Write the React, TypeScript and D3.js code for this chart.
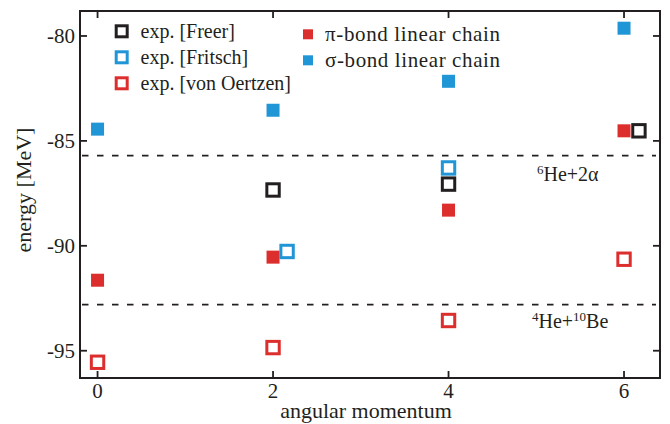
import React from "react";
import * as d3 from "d3";

// ---- data ----
const sigmaJ = [0, 2, 4, 6];
const sigmaE = [-84.44, -83.54, -82.16, -79.63];
const piJ = [0, 2, 4, 6];
const piE = [-91.64, -90.54, -88.3, -84.52];
const freerJ = [2, 4, 6.17];
const freerE = [-87.34, -87.06, -84.52];
const fritschJ = [2.16, 4];
const fritschE = [-90.27, -86.29];
const oertzenJ = [0, 2, 4, 6];
const oertzenE = [-95.55, -94.85, -93.56, -90.64];
const thresholdE = [-85.7, -92.8];
const xTicks = [0, 2, 4, 6];
const yTicks = [-80, -85, -90, -95];

const RED = "#dd2e2e";
const BLUE = "#2196d6";
const BLACK = "#231f20";
const FONT = '"Liberation Serif", "DejaVu Serif", serif';

const W = 670, H = 424;
const L = 80, R = 660, T = 11, B = 378;

export default function App() {
  const x = d3.scaleLinear().domain([-0.2, 6.41]).range([L, R]);
  const y = d3.scaleLinear().domain([-96.3, -78.81]).range([B, T]);
  const tick = 7;
  const ts = { fontFamily: FONT };

  const filled = (js: number[], es: number[], color: string, key: string) =>
    js.map((j, i) => (
      <rect key={key + i} x={x(j) - 6.5} y={y(es[i]) - 6.5} width={13} height={13} fill={color} />
    ));
  const open = (js: number[], es: number[], color: string, key: string) =>
    js.map((j, i) => (
      <rect key={key + i} x={x(j) - 6.2} y={y(es[i]) - 6.2} width={12.4} height={12.4}
        fill="white" stroke={color} strokeWidth={3} />
    ));

  return (
    <svg width={W} height={H} style={{ position: "absolute", left: 0, top: 0, background: "white", fontFamily: FONT }}
      fill={BLACK}>
      <rect x={0} y={0} width={W} height={H} fill="white" />
      {/* threshold dashed lines */}
      {thresholdE.map((e, i) => (
        <line key={"th" + i} x1={L + 2} x2={R - 4} y1={y(e)} y2={y(e)} stroke={BLACK}
          strokeWidth={1.7} strokeDasharray="6.5,8.5" />
      ))}
      <text x={537} y={181} fontSize={20} fill={BLACK} style={ts}>
        <tspan fontSize={13} dy={-7}>6</tspan>
        <tspan dy={7}>He+2α</tspan>
      </text>
      <text x={532} y={328} fontSize={20} fill={BLACK} style={ts}>
        <tspan fontSize={13} dy={-7}>4</tspan>
        <tspan dy={7}>He+</tspan>
        <tspan fontSize={13} dy={-7}>10</tspan>
        <tspan dy={7}>Be</tspan>
      </text>

      {/* frame */}
      <rect x={L} y={T} width={R - L} height={B - T} fill="none" stroke={BLACK} strokeWidth={2} />
      {xTicks.map((t) => (
        <g key={"xt" + t}>
          <line x1={x(t)} x2={x(t)} y1={B} y2={B - tick} stroke={BLACK} strokeWidth={1.8} />
          <line x1={x(t)} x2={x(t)} y1={T} y2={T + tick} stroke={BLACK} strokeWidth={1.8} />
          <text x={x(t)} y={398} fontSize={21} textAnchor="middle" style={ts}>{t}</text>
        </g>
      ))}
      {yTicks.map((t) => (
        <g key={"yt" + t}>
          <line x1={L} x2={L + tick} y1={y(t)} y2={y(t)} stroke={BLACK} strokeWidth={1.8} />
          <line x1={R} x2={R - tick} y1={y(t)} y2={y(t)} stroke={BLACK} strokeWidth={1.8} />
          <text x={75} y={y(t) + 7} fontSize={21} textAnchor="end" style={ts}>{t}</text>
        </g>
      ))}
      <text x={366} y={418} fontSize={22} textAnchor="middle" style={ts}>angular momentum</text>
      <text transform={`translate(31,190) rotate(-90)`} fontSize={22} textAnchor="middle" style={ts}>energy [MeV]</text>

      {/* data */}
      {filled(sigmaJ, sigmaE, BLUE, "s")}
      {filled(piJ, piE, RED, "p")}
      {open(oertzenJ, oertzenE, RED, "o")}
      {open(fritschJ, fritschE, BLUE, "f")}
      {open(freerJ, freerE, BLACK, "r")}

      {/* legend */}
      {[
        { label: "exp. [Freer]", c: BLACK, cy: 31.3 },
        { label: "exp. [Fritsch]", c: BLUE, cy: 57.3 },
        { label: "exp. [von Oertzen]", c: RED, cy: 83.3 },
      ].map((d) => (
        <g key={d.label}>
          <rect x={121.7 - 5.5} y={d.cy - 5.5} width={11} height={11} fill="white" stroke={d.c} strokeWidth={3} />
          <text x={140.5} y={d.cy + 6.5} fontSize={20} style={ts}>{d.label}</text>
        </g>
      ))}
      {[
        { label: "π-bond linear chain", c: RED, cy: 34.3 },
        { label: "σ-bond linear chain", c: BLUE, cy: 60.3 },
      ].map((d) => (
        <g key={d.label}>
          <rect x={308 - 5} y={d.cy - 5} width={10} height={10} fill={d.c} />
          <text x={325} y={d.cy + 6.5} fontSize={21} textLength={175} lengthAdjust="spacing" style={ts}>{d.label}</text>
        </g>
      ))}
    </svg>
  );
}
